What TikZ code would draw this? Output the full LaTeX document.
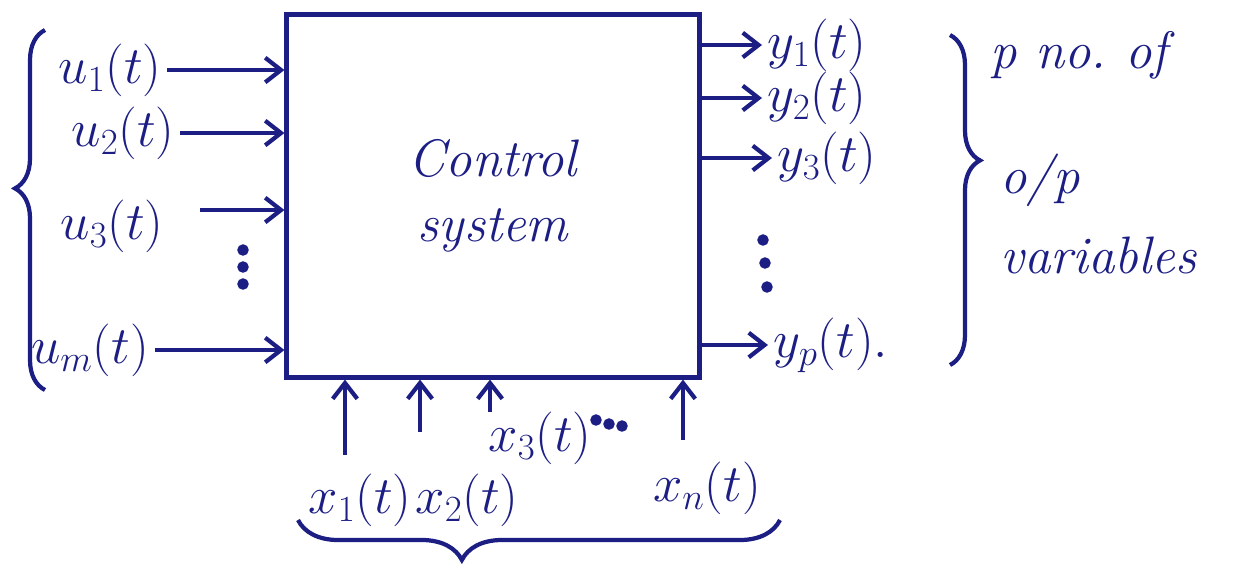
\RequirePackage{fix-cm}
\documentclass[tikz,border=0pt]{standalone}
\usepackage{fontspec}
\usetikzlibrary{arrows.meta,decorations.pathreplacing}
\definecolor{ink}{RGB}{28,30,132}

\begin{document}
\begin{tikzpicture}[x=0.02cm,y=-0.02cm,color=ink,line width=2.4pt,
  font=\fontsize{30}{37}\selectfont\itshape,
  sig/.style={-{Straight Barb[length=9pt,width=14pt]}},
  every node/.style={inner sep=2pt}]
\useasboundingbox (0,0) rectangle (1241,566);

\node [draw,minimum width=8.26cm,minimum height=7.26cm,align=center] (sys) at (493,196) {Control\\system};

\node (u1) at (110,70) {$u_1(t)$};
\node (u2) at (123,133) {$u_2(t)$};
\node (u3) at (112,226) {$u_3(t)$};
\node (um) at (90,350) {$u_m(t)$};
\coordinate (a3) at (200,210);
\draw [sig] (u1.east) -- (u1.east -| sys.west);
\draw [sig] (u2.east) -- (u2.east -| sys.west);
\draw [sig] (a3) -- (a3 -| sys.west);
\draw [sig] (um.east) -- (um.east -| sys.west);
\draw [fill] (243,250) circle [radius=2pt];
\draw [fill] (243,267) circle [radius=2pt];
\draw [fill] (243,284) circle [radius=2pt];
\draw [decorate,decoration={brace,amplitude=0.6cm,aspect=0.56}] (45,390) -- (45,30);

\node [anchor=west] (y1) at (762,45) {$y_1(t)$};
\node [anchor=west] (y2) at (762,98) {$y_2(t)$};
\node [anchor=west] (y3) at (772,158) {$y_3(t)$};
\node [anchor=west] (yp) at (768,345) {$y_p(t).$};
\draw [sig] (y1.west -| sys.east) -- (y1.west);
\draw [sig] (y2.west -| sys.east) -- (y2.west);
\draw [sig] (y3.west -| sys.east) -- (y3.west);
\draw [sig] (yp.west -| sys.east) -- (yp.west);
\draw [fill] (763,240) circle [radius=2pt];
\draw [fill] (765,263) circle [radius=2pt];
\draw [fill] (767,287) circle [radius=2pt];
\draw [decorate,decoration={brace,amplitude=0.6cm,aspect=0.38}] (950,35) -- (950,365);

\node [anchor=west] (pno) at (985,55) {p no.\ of};
\node [anchor=west] (op) at (995,180) {o/p};
\node [anchor=west] (var) at (995,255) {variables};

\node (x1) at (360,500) {$x_1(t)$};
\node (x2) at (467,500) {$x_2(t)$};
\node (x3) at (540,438) {$x_3(t)$};
\node (xn) at (707,488) {$x_n(t)$};
\coordinate (b1) at (345,455);
\coordinate (b2) at (420,432);
\coordinate (b3) at (490,412);
\coordinate (b4) at (683,440);
\draw [sig] (b1) -- (b1 |- sys.south);
\draw [sig] (b2) -- (b2 |- sys.south);
\draw [sig] (b3) -- (b3 |- sys.south);
\draw [sig] (b4) -- (b4 |- sys.south);
\draw [fill] (596,420) circle [radius=2pt];
\draw [fill] (609,424) circle [radius=2pt];
\draw [fill] (622,426) circle [radius=2pt];
\draw [decorate,decoration={brace,amplitude=0.8cm,aspect=0.66}] (780,520) -- (298,520);
\end{tikzpicture}
\end{document}
